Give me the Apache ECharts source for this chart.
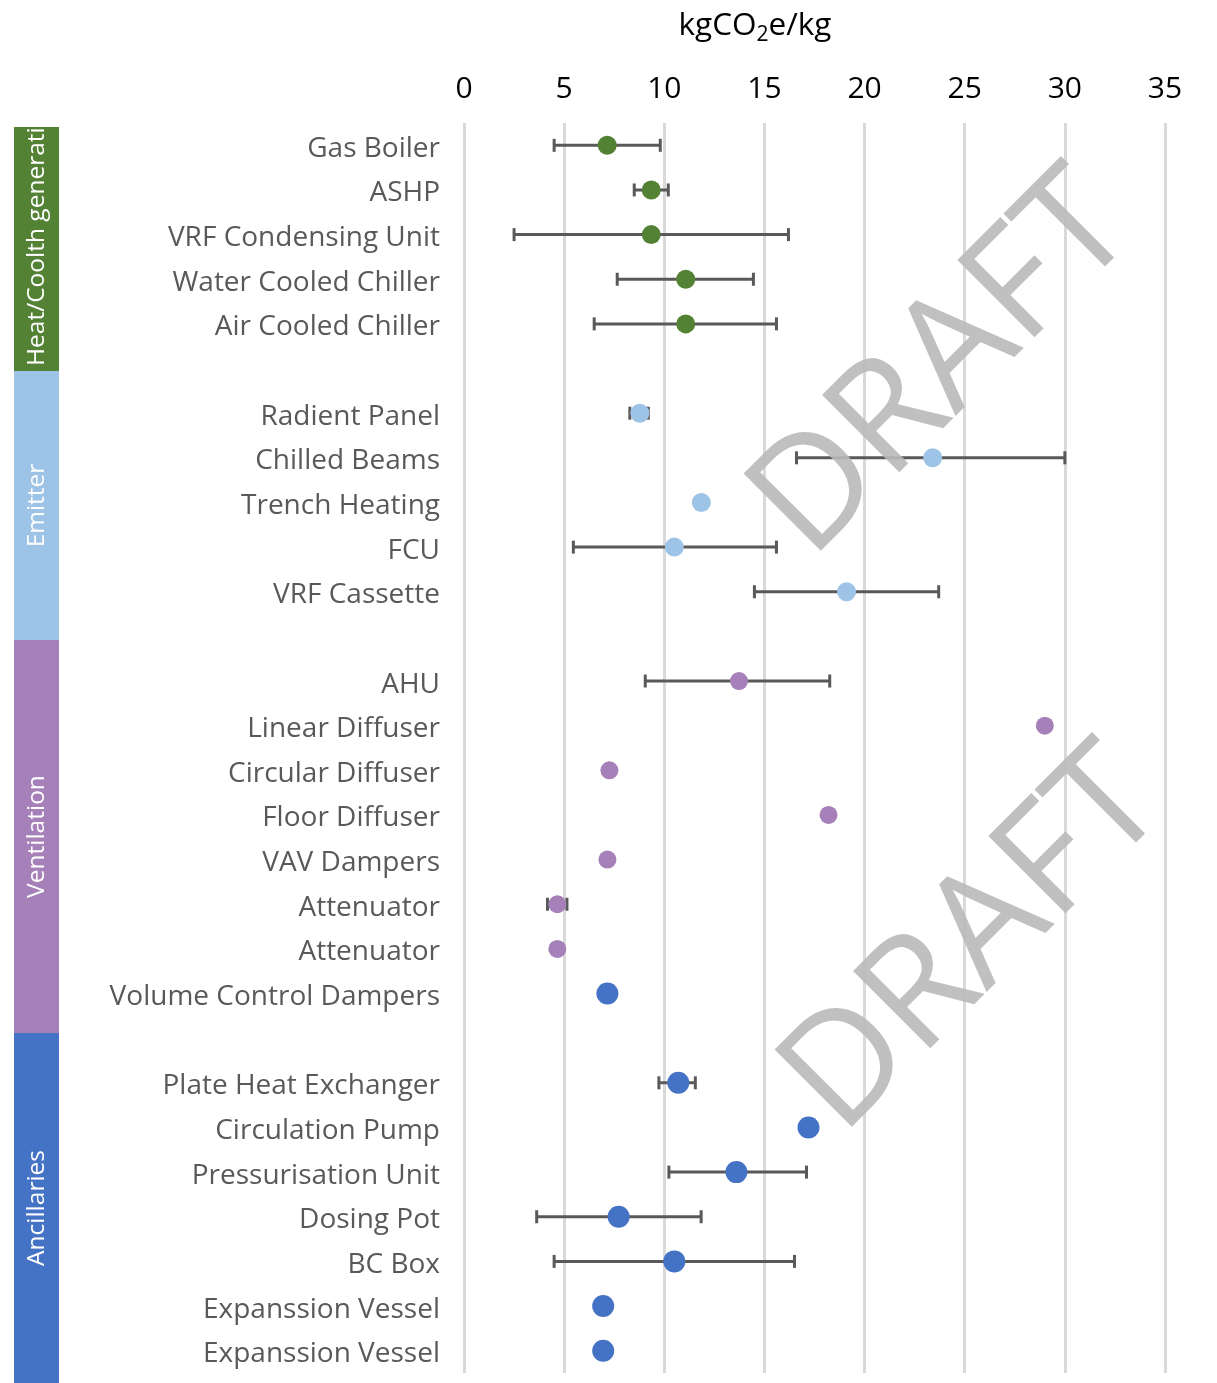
<!DOCTYPE html>
<html>
<head>
<meta charset="utf-8">
<script src="https://cdn.jsdelivr.net/npm/echarts@6/dist/echarts.min.js"></script>
<style>
html,body{margin:0;padding:0;background:#fff;}
#chart{width:1217px;height:1383px;}
</style>
</head>
<body>
<div id="chart"></div>
<script>
// Rows (top to bottom); blank strings are spacer rows between groups
const categories = [
  'Gas Boiler','ASHP','VRF Condensing Unit','Water Cooled Chiller','Air Cooled Chiller','',
  'Radient Panel','Chilled Beams','Trench Heating','FCU','VRF Cassette','',
  'AHU','Linear Diffuser','Circular Diffuser','Floor Diffuser','VAV Dampers','Attenuator','Attenuator','Volume Control Dampers','',
  'Plate Heat Exchanger','Circulation Pump','Pressurisation Unit','Dosing Pot','BC Box','Expanssion Vessel','Expanssion Vessel'
];
const xTicks = [0,5,10,15,20,25,30,35];

// Heat/Coolth generation: [value, row]
const heatValues = [[7.15,0],[9.35,1],[9.35,2],[11.07,3],[11.07,4]];
// Emitter
const emitterValues = [[8.78,6],[23.4,7],[11.85,8],[10.5,9],[19.1,10]];
// Ventilation
const ventValues = [[13.73,12],[29.0,13],[7.26,14],[18.2,15],[7.16,16],[4.66,17],[4.66,18]];
// Ancillaries (Volume Control Dampers shown in ancillary colour)
const ancValues = [[7.16,19],[10.7,21],[17.2,22],[13.6,23],[7.72,24],[10.5,25],[6.95,26],[6.95,27]];

// Error ranges: [low, high, row]
const errorRanges = [
  [4.5,9.8,0],[8.5,10.2,1],[2.5,16.2,2],[7.65,14.45,3],[6.5,15.6,4],
  [8.28,9.2,6],[16.6,30.0,7],[5.46,15.6,9],[14.5,23.7,10],
  [9.05,18.26,12],[4.17,5.14,17],
  [9.73,11.55,21],[10.23,17.1,23],[3.63,11.84,24],[4.5,16.5,25]
];

const groups = [
  {name:'Heat/Coolth generation', color:'#548235', y0:127, y1:371, anchor:'bottom'},
  {name:'Emitter', color:'#9DC3E6', y0:371, y1:640},
  {name:'Ventilation', color:'#A680B8', y0:640, y1:1033},
  {name:'Ancillaries', color:'#4472C4', y0:1033, y1:1383}
];

const FONT = '"Open Sans", "Noto Sans", sans-serif';
const chart = echarts.init(document.getElementById('chart'));

const graphics = [];
groups.forEach(g => {
  graphics.push({type:'rect', shape:{x:14,y:g.y0,width:45,height:g.y1-g.y0}, style:{fill:g.color}, z:1});
  if (g.anchor === 'bottom') {
    graphics.push({type:'text', x:37, y:g.y1-5, rotation:Math.PI/2,
      style:{text:g.name, fill:'#fff', font:'24.5px ' + FONT, align:'left', verticalAlign:'middle'}, z:2});
  } else {
    graphics.push({type:'text', x:37, y:(g.y0+g.y1)/2, rotation:Math.PI/2,
      style:{text:g.name, fill:'#fff', font:'24.5px ' + FONT, align:'center', verticalAlign:'middle'}, z:2});
  }
});
// hide overflow of the first band label above its band
graphics.push({type:'rect', shape:{x:10,y:0,width:60,height:127}, style:{fill:'#fff'}, z:3});
// axis title
graphics.push({type:'text', x:755, y:26, z:5, style:{
  text:'{a|kgCO}{s|2}{a|e/kg}', align:'center', verticalAlign:'middle',
  rich:{a:{fontSize:31.5, fontFamily:FONT, color:'#000', lineHeight:40},
        s:{fontSize:21, fontFamily:FONT, color:'#000', lineHeight:20, verticalAlign:'bottom'}}
}});
// watermarks
[[944,366],[975,942]].forEach(p => {
  graphics.push({type:'text', x:p[0], y:p[1], rotation:Math.PI/4, z:50, silent:true,
    style:{text:'DRAFT', fill:'rgba(185,185,185,0.9)', font:'153px ' + FONT, align:'center', verticalAlign:'middle'}});
});

function scatterSeries(data, color, size) {
  return {type:'scatter', data:data, symbolSize:size, itemStyle:{color:color, opacity:1}, z:10, silent:true};
}

chart.setOption({
  animation:false,
  backgroundColor:'#fff',
  grid:{left:464, right:52, top:123, bottom:10, containLabel:false},
  xAxis:{
    type:'value', position:'top', min:0, max:35, interval:5,
    axisLine:{show:false}, axisTick:{show:false},
    axisLabel:{fontSize:30, fontFamily:FONT, color:'#000', margin:19,
      formatter: v => xTicks.indexOf(v) >= 0 ? String(v) : ''},
    splitLine:{show:true, lineStyle:{color:'#d9d9d9', width:3}}
  },
  yAxis:{
    type:'category', inverse:true, data:categories,
    axisLine:{show:false}, axisTick:{show:false}, splitLine:{show:false},
    axisLabel:{fontSize:28, fontFamily:FONT, color:'#595959', margin:24, interval:0,
      formatter: v => '{l|' + v + '}',
      rich:{l:{fontSize:28, fontFamily:FONT, color:'#595959', padding:[7,0,0,0]}}}
  },
  graphic:graphics,
  series:[
    {
      type:'custom', z:5, silent:true,
      data:errorRanges,
      encode:{x:[0,1], y:2},
      renderItem:function(params, api){
        const lo = api.coord([api.value(0), api.value(2)]);
        const hi = api.coord([api.value(1), api.value(2)]);
        const h = 6.5;
        const st = {stroke:'#595959', lineWidth:3};
        return {type:'group', children:[
          {type:'line', shape:{x1:lo[0],y1:lo[1],x2:hi[0],y2:hi[1]}, style:st},
          {type:'line', shape:{x1:lo[0],y1:lo[1]-h,x2:lo[0],y2:lo[1]+h}, style:st},
          {type:'line', shape:{x1:hi[0],y1:hi[1]-h,x2:hi[0],y2:hi[1]+h}, style:st}
        ]};
      }
    },
    scatterSeries(heatValues, '#548235', 19),
    scatterSeries(emitterValues, '#9DC3E6', 19),
    scatterSeries(ventValues, '#A680B8', 18),
    scatterSeries(ancValues, '#4472C4', 22)
  ]
});
</script>
</body>
</html>
